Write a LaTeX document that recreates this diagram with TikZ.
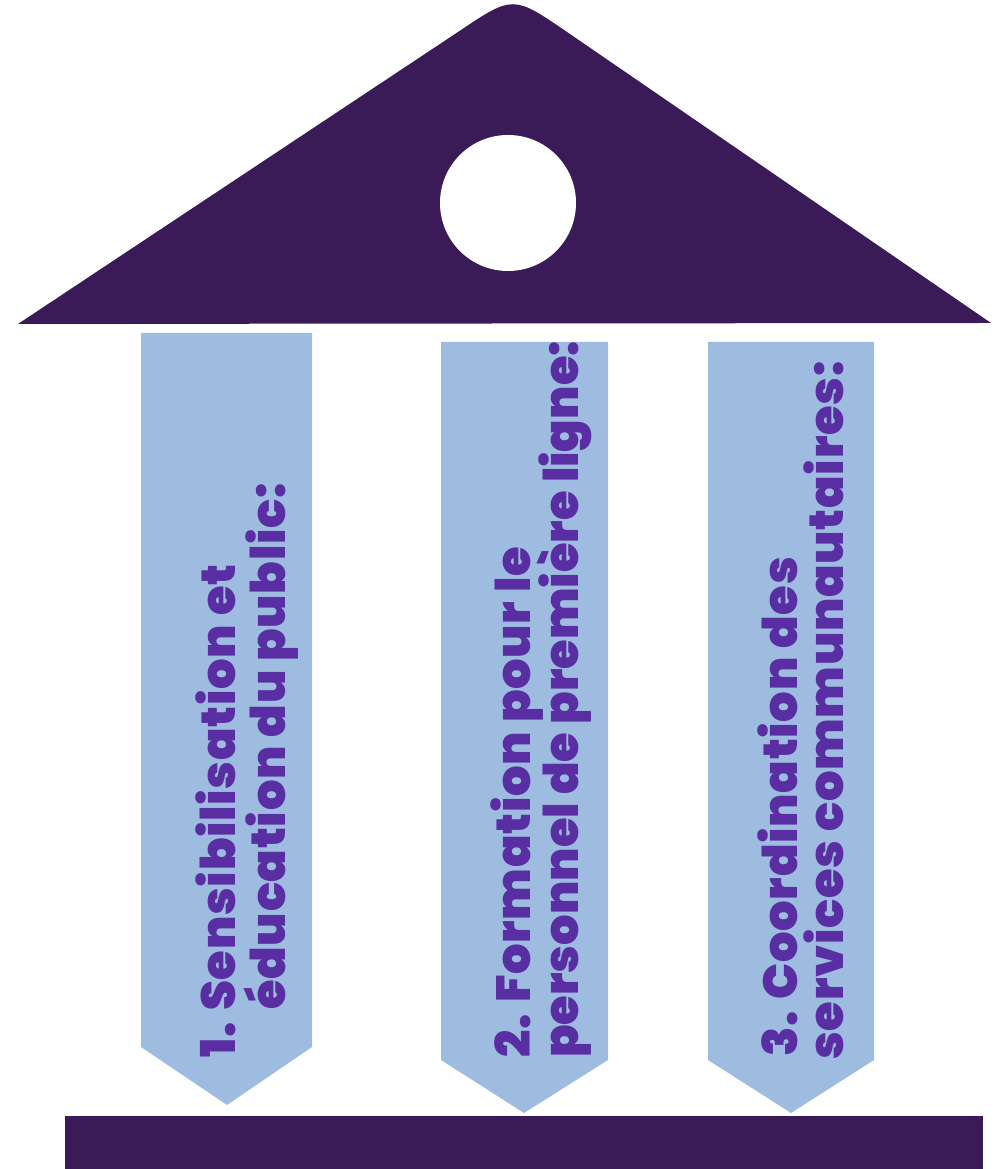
\documentclass[tikz,border=0pt]{standalone}
\usepackage{fontspec}
\newfontfamily\pillarfont{Poppins}[BoldFont = {Poppins Black}, LetterSpace = 1.5]
\definecolor{roofpurple}{HTML}{3A1B57}
\definecolor{pillarblue}{HTML}{9DBCE0}
\definecolor{textpurple}{HTML}{5A2EA3}
\tikzset {
  % dark parts of the building
  stone/.style = {
    fill = roofpurple,
    draw = none
  },
  % light columns with a pointed foot
  column/.style = {
    fill = pillarblue,
    draw = none
  },
  % one line of text running up a column
  column text/.style = {
    rotate = 90,
    anchor = base west,
    inner sep = 0,
    text = textpurple,
    font = \pillarfont\bfseries\fontsize{48}{50}\selectfont
  },
  % same, set a little tighter for the longest line
  tight text/.style = {
    column text,
    font = \pillarfont\bfseries\fontsize{48}{50}\selectfont\addfontfeature{LetterSpace = 0}
  }
}

\begin{document}
\begin{tikzpicture}[x = 1pt, y = 1pt]
    \useasboundingbox (0,0) rectangle (993,1169);

    % roof with round window
    \fill[stone] (18,845) -- (458,1137)
    .. controls (513,1174) .. (567,1137)
    -- (991,846) -- cycle;
    \fill[white] (508,966) circle (68);

    % columns
    \fill[column] (141,836) -- (312,836) -- (312,122) -- (227,64) -- (141,122) -- cycle;
    \fill[column] (441,827) -- (608,827) -- (608,109) -- (524,56) -- (441,109) -- cycle;
    \fill[column] (708,827) -- (874,827) -- (874,109) -- (791,56) -- (708,109) -- cycle;

    % floor
    \fill[stone] (65,0) rectangle (983,53);

    \node[column text] (sens-a) at (235,111) {1. Sensibilisation et};
    \node[column text] (sens-b) at (285,159) {éducation du public:};
    \node[column text] (form-a) at (530,111) {2. Formation pour le};
    \node[tight text] (form-b) at (578,111) {personnel de première ligne:};
    \node[column text] (coord-a) at (797,112) {3. Coordination des};
    \node[column text] (coord-b) at (843,109) {services communautaires:};
  \end{tikzpicture}
\end{document}
